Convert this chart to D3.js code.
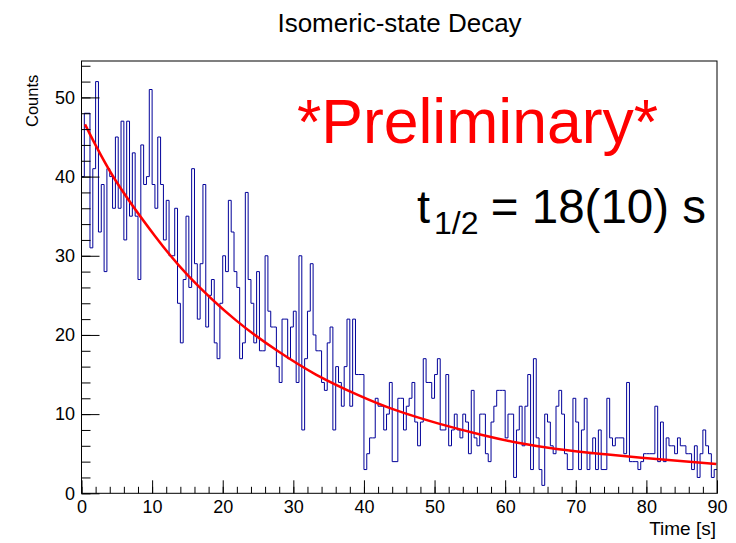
<!DOCTYPE html>
<html>
<head>
<meta charset="utf-8">
<script src="https://cdn.jsdelivr.net/npm/d3@7"></script>
<style>
html, body { margin: 0; padding: 0; background: #ffffff; }
svg { display: block; }
</style>
</head>
<body>
<svg id="chart" width="736" height="543"></svg>
<script>
// ---------------- data ----------------
const titleText = "Isomeric-state Decay";
const xAxisTitle = "Time [s]";
const yAxisTitle = "Counts";
const watermarkText = "*Preliminary*";
const halfLifeSymbol = "t";
const halfLifeSubscript = "1/2";
const halfLifeValue = "= 18(10) s";

const timeRange = [0, 90];          // histogram range (s)
const countRange = [0, 54.6];       // y axis range

// counts per bin (225 bins of 0.4 s from 0 to 90 s)
const binCounts = [
  40,48,48,31,41,52,33,39,28,41,40,36,45,36,47,
  32,47,35,43,35,27,44,39,40,51,39,36,45,39,32,
  37,30,30,36,24,19,27,35,26,41,29,22,29,39,21,
  25,27,19,17,24,30,28,37,33,28,26,17,19,38,27,
  24,19,28,18,18,30,23,21,21,16,14,22,22,17,21,
  23,14,30,8,17,23,29,20,18,18,14,13,19,21,8,
  16,14,11,16,22,11,22,15,15,15,3,5,7,7,12,
  11,11,8,10,14,4,4,12,12,8,11,12,14,9,6,
  9,17,14,14,12,15,17,8,8,15,6,8,10,8,7,
  10,9,5,13,7,6,10,10,5,4,9,11,13,13,13,
  7,10,10,2,8,11,6,11,15,3,17,7,3,1,10,
  9,6,5,11,13,10,5,3,3,12,9,3,8,12,3,
  5,7,3,8,3,3,12,7,6,7,7,7,5,14,4,
  4,4,3,4,5,5,5,5,11,4,9,4,7,6,6,
  5,7,6,6,5,5,3,6,2,5,8,6,5,2,3
];

const xTickValues = [0, 10, 20, 30, 40, 50, 60, 70, 80, 90];
const yTickValues = [0, 10, 20, 30, 40, 50];
const xMinorStep = 2;
const yMinorStep = 2;

// fitted decay curve
const fitTimes  = [0.5, 4.7, 10.4, 15.2, 21.8, 27.9, 33.2, 39.2, 44.5, 50.6, 56.6, 62.0, 67.3, 73.3, 79.3, 89.9];
const fitCounts = [46.6, 39.7, 32.5, 27.4, 21.9, 17.9, 15.0, 12.4, 10.5, 8.8, 7.4, 6.35, 5.6, 5.0, 4.5, 3.7];

// ---------------- drawing ----------------
const FONT = "'Liberation Sans', Arial, Helvetica, sans-serif";
const svg = d3.select("#chart");
const frame = { left: 81.5, right: 717, top: 61, bottom: 493.3 };

const x = d3.scaleLinear().domain(timeRange).range([frame.left, frame.right]);
const y = d3.scaleLinear().domain(countRange).range([frame.bottom, frame.top]);

svg.append("rect").attr("width", 736).attr("height", 543).attr("fill", "#fff");

// histogram
const binWidth = (timeRange[1] - timeRange[0]) / binCounts.length;
const stepPts = binCounts.map((v, i) => [x(timeRange[0] + i * binWidth), y(v)]);
stepPts.push([x(timeRange[1]), y(binCounts[binCounts.length - 1])]);
svg.append("path")
  .attr("d", d3.line().curve(d3.curveStepAfter)(stepPts))
  .attr("fill", "none")
  .attr("stroke", "#000099")
  .attr("stroke-width", 1);

// fit curve
svg.append("path")
  .datum(fitTimes.map((t, i) => [t, fitCounts[i]]))
  .attr("d", d3.line().x(d => x(d[0])).y(d => y(d[1])).curve(d3.curveNatural))
  .attr("fill", "none")
  .attr("stroke", "#ff0000")
  .attr("stroke-width", 2.5);

// frame
svg.append("rect")
  .attr("x", frame.left).attr("y", frame.top)
  .attr("width", frame.right - frame.left).attr("height", frame.bottom - frame.top)
  .attr("fill", "none").attr("stroke", "#000").attr("stroke-width", 1);

// axes (ticks pointing inward, ROOT style)
const xMinor = d3.range(timeRange[0], timeRange[1] + 0.001, xMinorStep);
const yMinor = d3.range(countRange[0], countRange[1], yMinorStep);

const gxMinor = svg.append("g").attr("transform", `translate(0,${frame.bottom})`)
  .call(d3.axisBottom(x).tickValues(xMinor).tickSize(-6.5).tickFormat(""));
const gx = svg.append("g").attr("transform", `translate(0,${frame.bottom})`)
  .call(d3.axisBottom(x).tickValues(xTickValues).tickSize(-13).tickPadding(7).tickFormat(d3.format("d")));
const gyMinor = svg.append("g").attr("transform", `translate(${frame.left},0)`)
  .call(d3.axisLeft(y).tickValues(yMinor).tickSize(-9).tickFormat(""));
const gy = svg.append("g").attr("transform", `translate(${frame.left},0)`)
  .call(d3.axisLeft(y).tickValues(yTickValues).tickSize(-18).tickPadding(6.5).tickFormat(d3.format("d")));

[gxMinor, gx, gyMinor, gy].forEach(g => {
  g.select(".domain").remove();
  g.selectAll(".tick line").attr("stroke", "#000").attr("stroke-width", 1);
  g.selectAll(".tick text").attr("font-family", FONT).attr("font-size", 18).attr("fill", "#000");
});

// title
svg.append("text")
  .attr("x", 399.5).attr("y", 32.3)
  .attr("text-anchor", "middle")
  .attr("font-family", FONT).attr("font-size", 26).attr("fill", "#000")
  .text(titleText);

// axis titles
svg.append("text")
  .attr("x", 716).attr("y", 534.5)
  .attr("text-anchor", "end")
  .attr("font-family", FONT).attr("font-size", 19).attr("fill", "#000")
  .text(xAxisTitle);

svg.append("text")
  .attr("transform", "translate(38,127) rotate(-90)")
  .attr("text-anchor", "start")
  .attr("font-family", FONT).attr("font-size", 16.5).attr("fill", "#000")
  .text(yAxisTitle);

// watermark
svg.append("text")
  .attr("x", 477.5).attr("y", 143.3)
  .attr("text-anchor", "middle")
  .attr("font-family", FONT).attr("font-size", 62.5).attr("fill", "#ff0000")
  .text(watermarkText);

// half-life label
svg.append("text")
  .attr("x", 417).attr("y", 222.7)
  .attr("font-family", FONT).attr("font-size", 47).attr("fill", "#000")
  .text(halfLifeSymbol);
svg.append("text")
  .attr("x", 434).attr("y", 233.5)
  .attr("font-family", FONT).attr("font-size", 32).attr("fill", "#000")
  .text(halfLifeSubscript);
svg.append("text")
  .attr("x", 706).attr("y", 222.7)
  .attr("text-anchor", "end")
  .attr("font-family", FONT).attr("font-size", 47.5).attr("fill", "#000")
  .text(halfLifeValue);
</script>
</body>
</html>
